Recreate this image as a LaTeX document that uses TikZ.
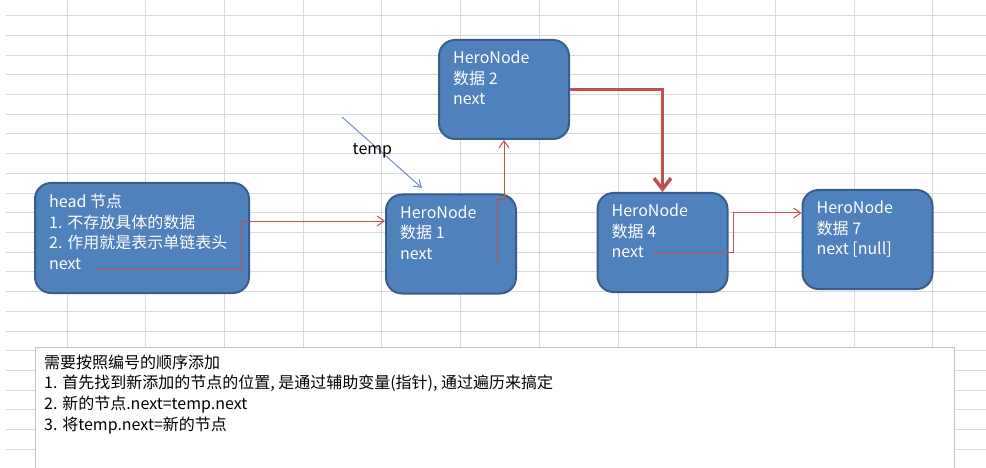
\documentclass[tikz,border=0pt]{standalone}
\usepackage{fontspec}
\setmainfont{Noto Sans CJK SC}
\usetikzlibrary{arrows.meta,positioning}
\definecolor{boxfill}{HTML}{4F81BD}
\definecolor{boxline}{HTML}{385D8A}
\definecolor{linkred}{HTML}{C0504D}
\definecolor{gridgray}{HTML}{D9D9D9}
\definecolor{tempblue}{HTML}{6F8FC6}
\definecolor{noteline}{HTML}{C4C4C4}

\begin{document}
\begin{tikzpicture}[x=1pt,y=-1pt,
  gridline/.style={draw=gridgray,line width=0.8pt},
  heronode/.style={rectangle,rounded corners=16pt,draw=boxline,line width=2pt,fill=boxfill,minimum width=130,minimum height=99},
  nodetext/.style={anchor=north west,inner sep=0,align=left,text=white,font={\fontsize{16}{20.5}\selectfont},execute at begin node=\strut},
  link/.style={draw=linkred,line width=1pt,-{Straight Barb[length=7pt,width=10pt]}},
  biglink/.style={draw=linkred,line width=3.5pt,-{Straight Barb[length=11pt,width=17pt]}},
  tempptr/.style={draw=tempblue,line width=1pt,-{Straight Barb[length=7pt,width=9pt]}},
  notebox/.style={rectangle,draw=noteline,line width=1pt,fill=white,anchor=north west,minimum width=919,minimum height=140},
  notetext/.style={anchor=north west,inner sep=0,align=left,text=black,font={\fontsize{16}{20.7}\selectfont},execute at begin node=\strut}]
\useasboundingbox (0,0) rectangle (986,468);
\clip (0,0) rectangle (986,468);
\foreach \gx in {0,...,11} \draw[gridline] ({67+78.7*\gx},0) -- ({67+78.7*\gx},468);
\foreach \gy in {0,...,22} \draw[gridline] (6,{15.7+19.7*\gy}) -- (986,{15.7+19.7*\gy});
       \node [heronode,minimum width=214,minimum height=110] (head) at (142,238) {};
       \node [heronode] (n1) at (451,244) {};
       \node [heronode] (n2) at (504,89.5) {};
       \node [heronode] (n4) at (662.5,242.5) {};
       \node [heronode] (n7) at (867.5,239.5) {};
       \node [nodetext] (headtxt) at ([xshift=15pt,yshift=-12pt]head.north west) {head 节点\\1. 不存放具体的数据\\2. 作用就是表示单链表头\\next};
       \node [nodetext] (n1txt) at ([xshift=15pt,yshift=-12pt]n1.north west) {HeroNode\\数据 1\\next};
       \node [nodetext] (n2txt) at ([xshift=15pt,yshift=-12pt]n2.north west) {HeroNode\\数据 2\\next};
       \node [nodetext] (n4txt) at ([xshift=15pt,yshift=-12pt]n4.north west) {HeroNode\\数据 4\\next};
       \node [nodetext] (n7txt) at ([xshift=15pt,yshift=-12pt]n7.north west) {HeroNode\\数据 7\\next [null]};
\coordinate (headnext) at (94,268);
\coordinate (n1next) at (497,262);
\coordinate (n4next) at (653,252);
\coordinate (tempfrom) at (342,117);
\coordinate (tempto) at (422,188);
\draw [link] (headnext) -| (241,221) -- (n1.west |- 241,221);
\draw [link] (n1next) |- (n2.south |- 0,200) -- (n2.south);
\draw [biglink] (n2.east) -| (n4.north);
\draw [link] (n4next) -| (733,213) -- (n7.west |- 733,213);
\draw [tempptr] (tempfrom) -- node [pos=0.48,xshift=-8pt,text=black,font={\fontsize{16}{20}\selectfont}] (templabel) {temp} (tempto);
       \node [notebox] (note) at (35,347) {};
       \node [notetext] (notetxt) at ([xshift=9pt,yshift=-7.5pt]note.north west) {需要按照编号的顺序添加\\1. 首先找到新添加的节点的位置, 是通过辅助变量(指针), 通过遍历来搞定\\2. 新的节点.next=temp.next\\3. 将temp.next=新的节点};
\end{tikzpicture}
\end{document}
